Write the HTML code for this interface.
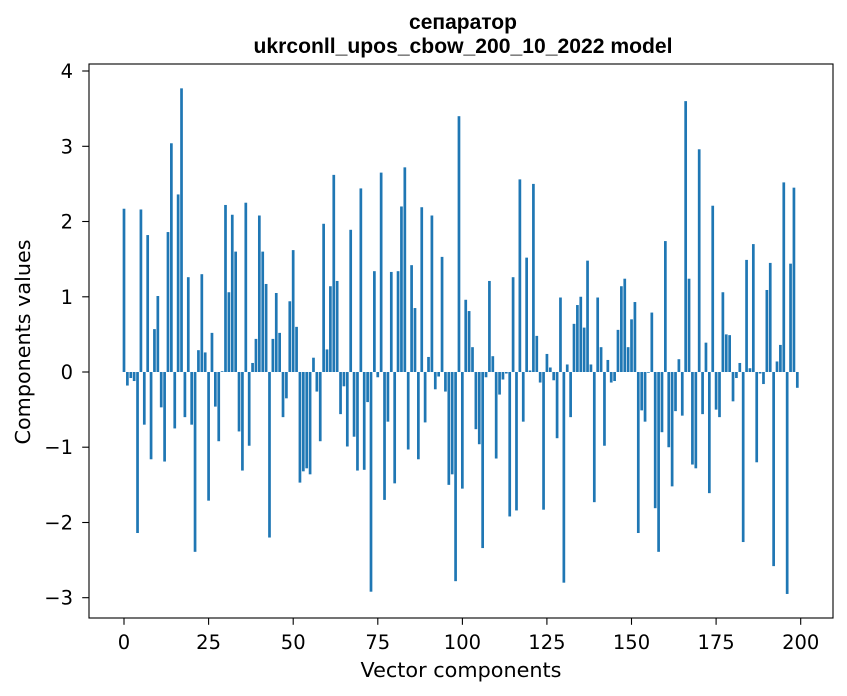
<!DOCTYPE html>
<html>
<head>
<meta charset="utf-8">
<style>
html,body{margin:0;padding:0;background:#fff;}
svg{display:block;}
.tk{font-family:"DejaVu Sans","Liberation Sans",sans-serif;font-size:19.5px;fill:#000;}
.lb{font-family:"DejaVu Sans","Liberation Sans",sans-serif;font-size:20.5px;fill:#000;}
.tt{font-family:"Liberation Sans","DejaVu Sans",sans-serif;font-size:21px;font-weight:bold;fill:#000;}
</style>
</head>
<body>
<svg width="847" height="696" viewBox="0 0 847 696" xmlns="http://www.w3.org/2000/svg">
<rect x="0" y="0" width="847" height="696" fill="#fff"/>
<g transform="translate(124,372) scale(3.3835,-75.24)" fill="#1f77b4">
<rect x="-0.4" y="0" width="0.8" height="2.17"/>
<rect x="0.6" y="-0.18" width="0.8" height="0.18"/>
<rect x="1.6" y="-0.08" width="0.8" height="0.08"/>
<rect x="2.6" y="-0.12" width="0.8" height="0.12"/>
<rect x="3.6" y="-2.14" width="0.8" height="2.14"/>
<rect x="4.6" y="0" width="0.8" height="2.16"/>
<rect x="5.6" y="-0.70" width="0.8" height="0.70"/>
<rect x="6.6" y="0" width="0.8" height="1.82"/>
<rect x="7.6" y="-1.16" width="0.8" height="1.16"/>
<rect x="8.6" y="0" width="0.8" height="0.57"/>
<rect x="9.6" y="0" width="0.8" height="1.01"/>
<rect x="10.6" y="-0.47" width="0.8" height="0.47"/>
<rect x="11.6" y="-1.19" width="0.8" height="1.19"/>
<rect x="12.6" y="0" width="0.8" height="1.86"/>
<rect x="13.6" y="0" width="0.8" height="3.04"/>
<rect x="14.6" y="-0.75" width="0.8" height="0.75"/>
<rect x="15.6" y="0" width="0.8" height="2.36"/>
<rect x="16.6" y="0" width="0.8" height="3.77"/>
<rect x="17.6" y="-0.60" width="0.8" height="0.60"/>
<rect x="18.6" y="0" width="0.8" height="1.26"/>
<rect x="19.6" y="-0.70" width="0.8" height="0.70"/>
<rect x="20.6" y="-2.39" width="0.8" height="2.39"/>
<rect x="21.6" y="0" width="0.8" height="0.29"/>
<rect x="22.6" y="0" width="0.8" height="1.30"/>
<rect x="23.6" y="0" width="0.8" height="0.26"/>
<rect x="24.6" y="-1.71" width="0.8" height="1.71"/>
<rect x="25.6" y="0" width="0.8" height="0.52"/>
<rect x="26.6" y="-0.46" width="0.8" height="0.46"/>
<rect x="27.6" y="-0.92" width="0.8" height="0.92"/>
<rect x="28.6" y="0" width="0.8" height="0.01"/>
<rect x="29.6" y="0" width="0.8" height="2.22"/>
<rect x="30.6" y="0" width="0.8" height="1.06"/>
<rect x="31.6" y="0" width="0.8" height="2.09"/>
<rect x="32.6" y="0" width="0.8" height="1.60"/>
<rect x="33.6" y="-0.79" width="0.8" height="0.79"/>
<rect x="34.6" y="-1.31" width="0.8" height="1.31"/>
<rect x="35.6" y="0" width="0.8" height="2.25"/>
<rect x="36.6" y="-0.98" width="0.8" height="0.98"/>
<rect x="37.6" y="0" width="0.8" height="0.12"/>
<rect x="38.6" y="0" width="0.8" height="0.44"/>
<rect x="39.6" y="0" width="0.8" height="2.08"/>
<rect x="40.6" y="0" width="0.8" height="1.60"/>
<rect x="41.6" y="0" width="0.8" height="1.17"/>
<rect x="42.6" y="-2.20" width="0.8" height="2.20"/>
<rect x="43.6" y="0" width="0.8" height="0.44"/>
<rect x="44.6" y="0" width="0.8" height="1.05"/>
<rect x="45.6" y="0" width="0.8" height="0.52"/>
<rect x="46.6" y="-0.60" width="0.8" height="0.60"/>
<rect x="47.6" y="-0.35" width="0.8" height="0.35"/>
<rect x="48.6" y="0" width="0.8" height="0.94"/>
<rect x="49.6" y="0" width="0.8" height="1.62"/>
<rect x="50.6" y="0" width="0.8" height="0.60"/>
<rect x="51.6" y="-1.47" width="0.8" height="1.47"/>
<rect x="52.6" y="-1.32" width="0.8" height="1.32"/>
<rect x="53.6" y="-1.28" width="0.8" height="1.28"/>
<rect x="54.6" y="-1.36" width="0.8" height="1.36"/>
<rect x="55.6" y="0" width="0.8" height="0.19"/>
<rect x="56.6" y="-0.26" width="0.8" height="0.26"/>
<rect x="57.6" y="-0.92" width="0.8" height="0.92"/>
<rect x="58.6" y="0" width="0.8" height="1.97"/>
<rect x="59.6" y="0" width="0.8" height="0.30"/>
<rect x="60.6" y="0" width="0.8" height="1.14"/>
<rect x="61.6" y="0" width="0.8" height="2.62"/>
<rect x="62.6" y="0" width="0.8" height="1.21"/>
<rect x="63.6" y="-0.56" width="0.8" height="0.56"/>
<rect x="64.6" y="-0.19" width="0.8" height="0.19"/>
<rect x="65.6" y="-0.99" width="0.8" height="0.99"/>
<rect x="66.6" y="0" width="0.8" height="1.89"/>
<rect x="67.6" y="-0.86" width="0.8" height="0.86"/>
<rect x="68.6" y="-1.31" width="0.8" height="1.31"/>
<rect x="69.6" y="0" width="0.8" height="2.44"/>
<rect x="70.6" y="-1.30" width="0.8" height="1.30"/>
<rect x="71.6" y="-0.40" width="0.8" height="0.40"/>
<rect x="72.6" y="-2.92" width="0.8" height="2.92"/>
<rect x="73.6" y="0" width="0.8" height="1.34"/>
<rect x="74.6" y="-0.07" width="0.8" height="0.07"/>
<rect x="75.6" y="0" width="0.8" height="2.65"/>
<rect x="76.6" y="-1.70" width="0.8" height="1.70"/>
<rect x="77.6" y="-0.66" width="0.8" height="0.66"/>
<rect x="78.6" y="0" width="0.8" height="1.33"/>
<rect x="79.6" y="-1.48" width="0.8" height="1.48"/>
<rect x="80.6" y="0" width="0.8" height="1.34"/>
<rect x="81.6" y="0" width="0.8" height="2.20"/>
<rect x="82.6" y="0" width="0.8" height="2.72"/>
<rect x="83.6" y="-1.03" width="0.8" height="1.03"/>
<rect x="84.6" y="0" width="0.8" height="1.42"/>
<rect x="85.6" y="0" width="0.8" height="0.85"/>
<rect x="86.6" y="-1.16" width="0.8" height="1.16"/>
<rect x="87.6" y="0" width="0.8" height="2.19"/>
<rect x="88.6" y="-0.67" width="0.8" height="0.67"/>
<rect x="89.6" y="0" width="0.8" height="0.20"/>
<rect x="90.6" y="0" width="0.8" height="2.08"/>
<rect x="91.6" y="-0.23" width="0.8" height="0.23"/>
<rect x="92.6" y="-0.06" width="0.8" height="0.06"/>
<rect x="93.6" y="0" width="0.8" height="1.53"/>
<rect x="94.6" y="-0.26" width="0.8" height="0.26"/>
<rect x="95.6" y="-1.50" width="0.8" height="1.50"/>
<rect x="96.6" y="-1.36" width="0.8" height="1.36"/>
<rect x="97.6" y="-2.78" width="0.8" height="2.78"/>
<rect x="98.6" y="0" width="0.8" height="3.40"/>
<rect x="99.6" y="-1.55" width="0.8" height="1.55"/>
<rect x="100.6" y="0" width="0.8" height="0.96"/>
<rect x="101.6" y="0" width="0.8" height="0.81"/>
<rect x="102.6" y="0" width="0.8" height="0.33"/>
<rect x="103.6" y="-0.76" width="0.8" height="0.76"/>
<rect x="104.6" y="-0.96" width="0.8" height="0.96"/>
<rect x="105.6" y="-2.34" width="0.8" height="2.34"/>
<rect x="106.6" y="-0.07" width="0.8" height="0.07"/>
<rect x="107.6" y="0" width="0.8" height="1.21"/>
<rect x="108.6" y="0" width="0.8" height="0.21"/>
<rect x="109.6" y="-1.15" width="0.8" height="1.15"/>
<rect x="110.6" y="-0.30" width="0.8" height="0.30"/>
<rect x="111.6" y="-0.10" width="0.8" height="0.10"/>
<rect x="112.6" y="-0.02" width="0.8" height="0.02"/>
<rect x="113.6" y="-1.92" width="0.8" height="1.92"/>
<rect x="114.6" y="0" width="0.8" height="1.26"/>
<rect x="115.6" y="-1.84" width="0.8" height="1.84"/>
<rect x="116.6" y="0" width="0.8" height="2.56"/>
<rect x="117.6" y="-0.66" width="0.8" height="0.66"/>
<rect x="118.6" y="0" width="0.8" height="1.52"/>
<rect x="119.6" y="0" width="0.8" height="0.02"/>
<rect x="120.6" y="0" width="0.8" height="2.50"/>
<rect x="121.6" y="0" width="0.8" height="0.48"/>
<rect x="122.6" y="-0.14" width="0.8" height="0.14"/>
<rect x="123.6" y="-1.83" width="0.8" height="1.83"/>
<rect x="124.6" y="0" width="0.8" height="0.24"/>
<rect x="125.6" y="0" width="0.8" height="0.06"/>
<rect x="126.6" y="-0.11" width="0.8" height="0.11"/>
<rect x="127.6" y="-0.88" width="0.8" height="0.88"/>
<rect x="128.6" y="0" width="0.8" height="0.99"/>
<rect x="129.6" y="-2.80" width="0.8" height="2.80"/>
<rect x="130.6" y="0" width="0.8" height="0.10"/>
<rect x="131.6" y="-0.60" width="0.8" height="0.60"/>
<rect x="132.6" y="0" width="0.8" height="0.64"/>
<rect x="133.6" y="0" width="0.8" height="0.89"/>
<rect x="134.6" y="0" width="0.8" height="1.00"/>
<rect x="135.6" y="0" width="0.8" height="0.59"/>
<rect x="136.6" y="0" width="0.8" height="1.48"/>
<rect x="137.6" y="0" width="0.8" height="0.10"/>
<rect x="138.6" y="-1.73" width="0.8" height="1.73"/>
<rect x="139.6" y="0" width="0.8" height="0.99"/>
<rect x="140.6" y="0" width="0.8" height="0.33"/>
<rect x="141.6" y="-0.98" width="0.8" height="0.98"/>
<rect x="142.6" y="0" width="0.8" height="0.16"/>
<rect x="143.6" y="-0.14" width="0.8" height="0.14"/>
<rect x="144.6" y="-0.12" width="0.8" height="0.12"/>
<rect x="145.6" y="0" width="0.8" height="0.56"/>
<rect x="146.6" y="0" width="0.8" height="1.14"/>
<rect x="147.6" y="0" width="0.8" height="1.24"/>
<rect x="148.6" y="0" width="0.8" height="0.33"/>
<rect x="149.6" y="0" width="0.8" height="0.70"/>
<rect x="150.6" y="0" width="0.8" height="0.93"/>
<rect x="151.6" y="-2.14" width="0.8" height="2.14"/>
<rect x="152.6" y="-0.51" width="0.8" height="0.51"/>
<rect x="153.6" y="-0.66" width="0.8" height="0.66"/>
<rect x="154.6" y="-0.01" width="0.8" height="0.01"/>
<rect x="155.6" y="0" width="0.8" height="0.79"/>
<rect x="156.6" y="-1.81" width="0.8" height="1.81"/>
<rect x="157.6" y="-2.39" width="0.8" height="2.39"/>
<rect x="158.6" y="-0.80" width="0.8" height="0.80"/>
<rect x="159.6" y="0" width="0.8" height="1.74"/>
<rect x="160.6" y="-1.00" width="0.8" height="1.00"/>
<rect x="161.6" y="-1.52" width="0.8" height="1.52"/>
<rect x="162.6" y="-0.52" width="0.8" height="0.52"/>
<rect x="163.6" y="0" width="0.8" height="0.17"/>
<rect x="164.6" y="-0.58" width="0.8" height="0.58"/>
<rect x="165.6" y="0" width="0.8" height="3.60"/>
<rect x="166.6" y="0" width="0.8" height="1.24"/>
<rect x="167.6" y="-1.23" width="0.8" height="1.23"/>
<rect x="168.6" y="-1.28" width="0.8" height="1.28"/>
<rect x="169.6" y="0" width="0.8" height="2.96"/>
<rect x="170.6" y="-0.56" width="0.8" height="0.56"/>
<rect x="171.6" y="0" width="0.8" height="0.39"/>
<rect x="172.6" y="-1.61" width="0.8" height="1.61"/>
<rect x="173.6" y="0" width="0.8" height="2.21"/>
<rect x="174.6" y="-0.50" width="0.8" height="0.50"/>
<rect x="175.6" y="-0.60" width="0.8" height="0.60"/>
<rect x="176.6" y="0" width="0.8" height="1.06"/>
<rect x="177.6" y="0" width="0.8" height="0.50"/>
<rect x="178.6" y="0" width="0.8" height="0.49"/>
<rect x="179.6" y="-0.39" width="0.8" height="0.39"/>
<rect x="180.6" y="-0.08" width="0.8" height="0.08"/>
<rect x="181.6" y="0" width="0.8" height="0.12"/>
<rect x="182.6" y="-2.26" width="0.8" height="2.26"/>
<rect x="183.6" y="0" width="0.8" height="1.49"/>
<rect x="184.6" y="0" width="0.8" height="0.05"/>
<rect x="185.6" y="0" width="0.8" height="1.70"/>
<rect x="186.6" y="-1.20" width="0.8" height="1.20"/>
<rect x="187.6" y="-0.02" width="0.8" height="0.02"/>
<rect x="188.6" y="-0.16" width="0.8" height="0.16"/>
<rect x="189.6" y="0" width="0.8" height="1.09"/>
<rect x="190.6" y="0" width="0.8" height="1.45"/>
<rect x="191.6" y="-2.58" width="0.8" height="2.58"/>
<rect x="192.6" y="0" width="0.8" height="0.14"/>
<rect x="193.6" y="0" width="0.8" height="0.36"/>
<rect x="194.6" y="0" width="0.8" height="2.52"/>
<rect x="195.6" y="-2.95" width="0.8" height="2.95"/>
<rect x="196.6" y="0" width="0.8" height="1.44"/>
<rect x="197.6" y="0" width="0.8" height="2.45"/>
<rect x="198.6" y="-0.21" width="0.8" height="0.21"/>
</g>
<!-- axes frame -->
<rect x="89" y="64" width="744" height="554" fill="none" stroke="#000" stroke-width="1.1"/>
<!-- x ticks -->
<g stroke="#000" stroke-width="1.1">
<line x1="124" y1="618" x2="124" y2="624.8"/>
<line x1="208.6" y1="618" x2="208.6" y2="624.8"/>
<line x1="293.2" y1="618" x2="293.2" y2="624.8"/>
<line x1="377.8" y1="618" x2="377.8" y2="624.8"/>
<line x1="462.4" y1="618" x2="462.4" y2="624.8"/>
<line x1="546.9" y1="618" x2="546.9" y2="624.8"/>
<line x1="631.5" y1="618" x2="631.5" y2="624.8"/>
<line x1="716.1" y1="618" x2="716.1" y2="624.8"/>
<line x1="800.7" y1="618" x2="800.7" y2="624.8"/>
<line x1="82.2" y1="71" x2="89" y2="71"/>
<line x1="82.2" y1="146.3" x2="89" y2="146.3"/>
<line x1="82.2" y1="221.5" x2="89" y2="221.5"/>
<line x1="82.2" y1="296.8" x2="89" y2="296.8"/>
<line x1="82.2" y1="372" x2="89" y2="372"/>
<line x1="82.2" y1="447.2" x2="89" y2="447.2"/>
<line x1="82.2" y1="522.5" x2="89" y2="522.5"/>
<line x1="82.2" y1="597.7" x2="89" y2="597.7"/>
</g>
<g class="tk" text-anchor="middle">
<text x="124" y="649">0</text>
<text x="208.6" y="649">25</text>
<text x="293.2" y="649">50</text>
<text x="377.8" y="649">75</text>
<text x="462.4" y="649">100</text>
<text x="546.9" y="649">125</text>
<text x="631.5" y="649">150</text>
<text x="716.1" y="649">175</text>
<text x="800.7" y="649">200</text>
</g>
<g class="tk" text-anchor="end">
<text x="73" y="78">4</text>
<text x="73" y="153.3">3</text>
<text x="73" y="228.5">2</text>
<text x="73" y="303.8">1</text>
<text x="73" y="379">0</text>
<text x="73" y="454.2">−1</text>
<text x="73" y="529.5">−2</text>
<text x="73" y="604.7">−3</text>
</g>
<text class="lb" x="461" y="677" text-anchor="middle" textLength="201" lengthAdjust="spacingAndGlyphs">Vector components</text>
<text class="lb" transform="translate(30,342) rotate(-90)" x="0" y="0" text-anchor="middle" textLength="205" lengthAdjust="spacingAndGlyphs">Components values</text>
<text class="tt" x="463" y="29" text-anchor="middle">сепаратор</text>
<text class="tt" x="463" y="53" text-anchor="middle" textLength="419" lengthAdjust="spacingAndGlyphs">ukrconll_upos_cbow_200_10_2022 model</text>
</svg>
</body>
</html>
